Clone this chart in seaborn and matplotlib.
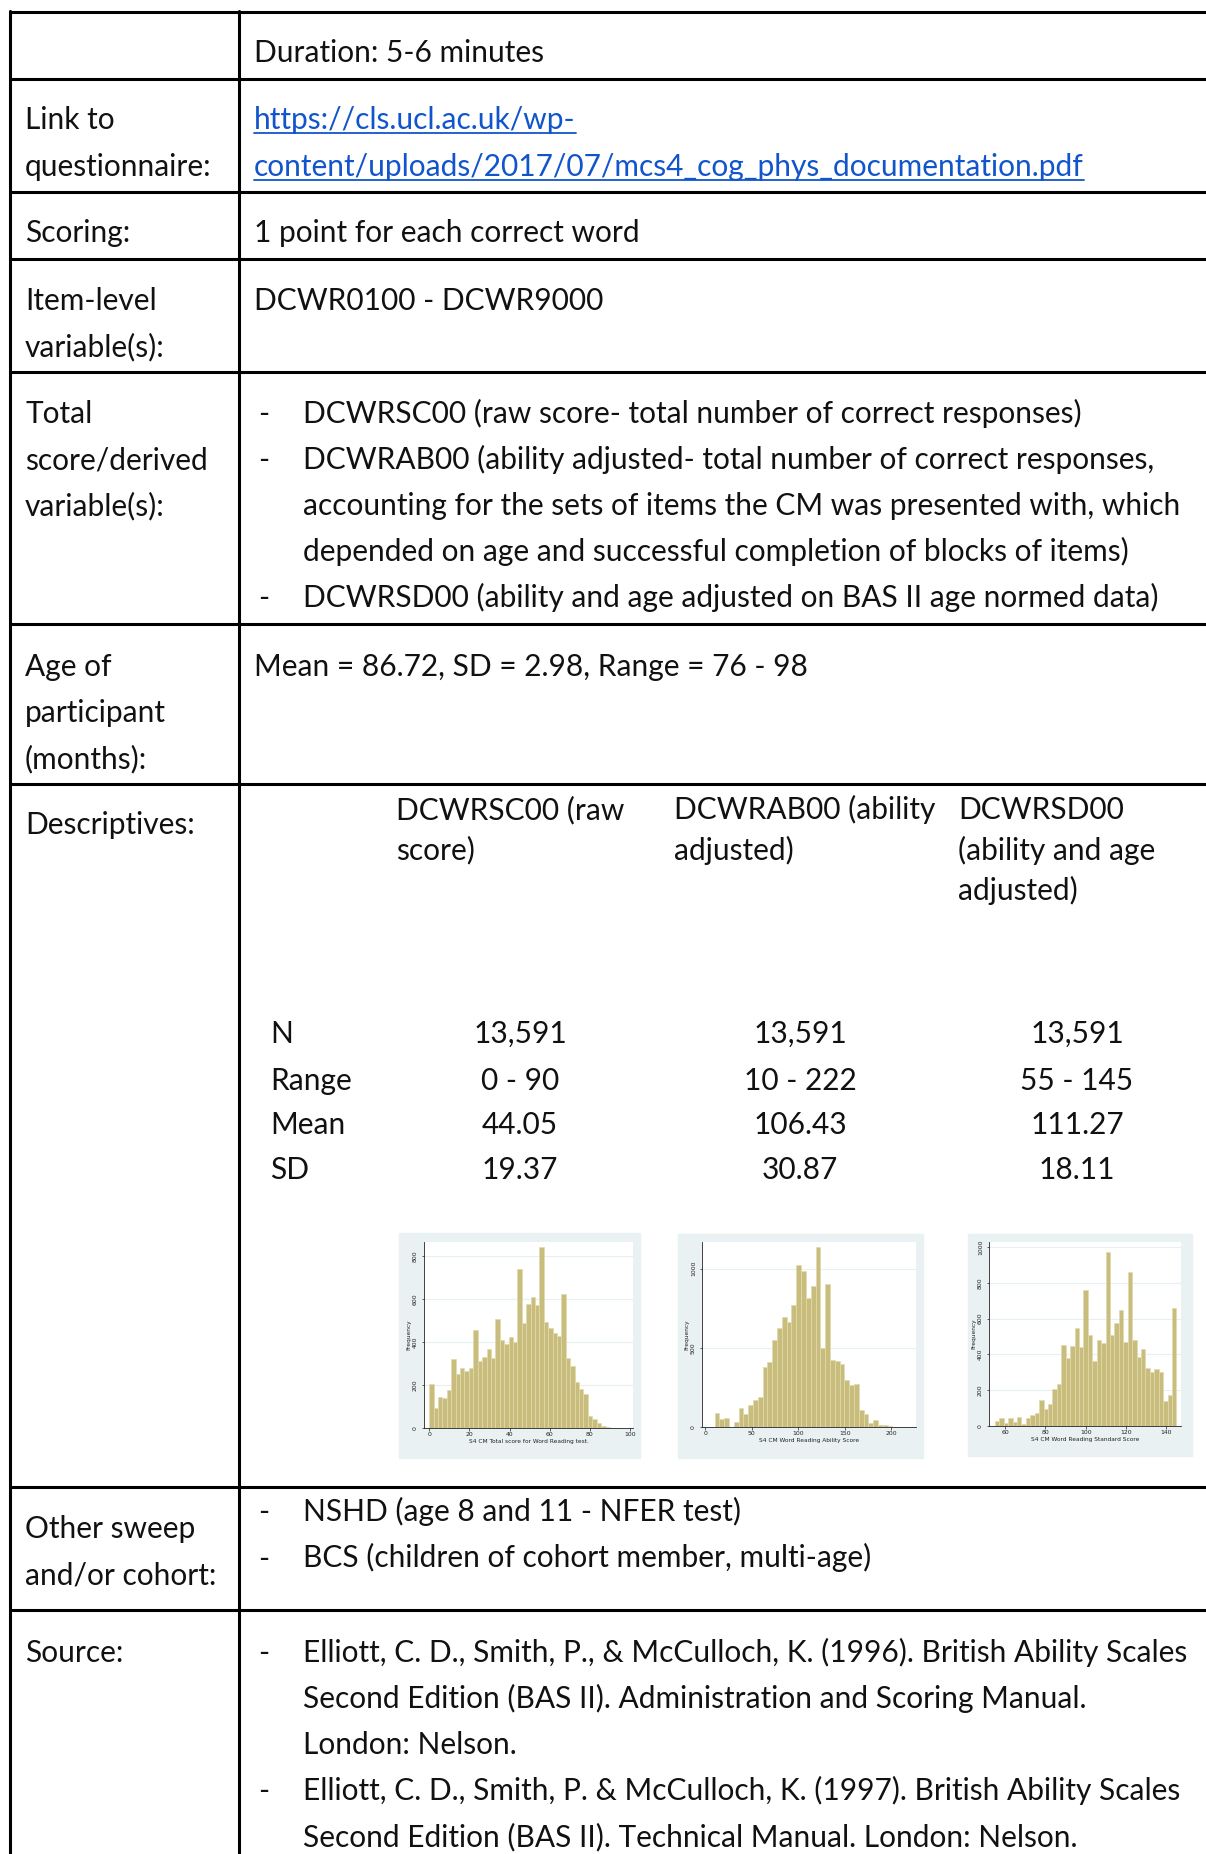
import numpy as np
import pandas as pd
import matplotlib
matplotlib.use("Agg")
import matplotlib.pyplot as plt
import seaborn as sns
from matplotlib.patches import Rectangle

# ---------------- data ----------------
raw_counts = [204, 93, 144, 139, 176, 320, 251, 279, 265, 279,
              457, 310, 330, 367, 325, 505, 409, 390, 424, 399,
              739, 488, 575, 609, 573, 841, 493, 465, 440, 426,
              623, 325, 290, 216, 181, 158, 57, 42, 25, 10, 3]
ability_counts = [90, 53, 59, 0, 34, 122, 80, 139, 172, 189,
                  378, 412, 550, 626, 693, 662, 769, 1025, 987, 815,
                  893, 1137, 496, 903, 422, 416, 395, 294, 263, 269,
                  109, 84, 23, 42, 15, 15, 4, 2, 1, 1, 1]
standard_counts = [30, 47, 15, 47, 21, 52, 9, 47, 63, 73,
                   144, 93, 121, 207, 237, 455, 382, 448, 547, 442,
                   761, 507, 362, 479, 466, 970, 509, 573, 647, 470,
                   858, 483, 388, 431, 326, 300, 321, 300, 142, 172, 660]
raw_range = (0, 90)
ability_range = (10, 222)
standard_range = (55, 145)

stat_labels = ["N", "Range", "Mean", "SD"]
raw_stats = ["13,591", "0 - 90", "44.05", "19.37"]
ability_stats = ["13,591", "10 - 222", "106.43", "30.87"]
standard_stats = ["13,591", "55 - 145", "111.27", "18.11"]

raw_xlabel = "S4 CM Total score for Word Reading test."
ability_xlabel = "S4 CM Word Reading Ability Score"
standard_xlabel = "S4 CM Word Reading Standard Score"

# ---------------- figure ----------------
sns.set_theme(style="white")
plt.rcParams['font.family'] = ['Lato', 'DejaVu Sans']

W, H = 1206, 1854
fig = plt.figure(figsize=(W / 100, H / 100), dpi=100)
ax0 = fig.add_axes([0, 0, 1, 1])
ax0.set_xlim(0, W)
ax0.set_ylim(H, 0)
ax0.axis('off')

FS = 20.0
TXT = '#111111'
LINK = '#1155CC'

# auto-fit font size to the reference line width
probe = ax0.text(0, 0, "accounting for the sets of items the CM was presented with, which", fontsize=FS)
fig.canvas.draw()
wpx = probe.get_window_extent().width
FS = FS * 880.0 / wpx
probe.remove()

def T(x, y, s, color=TXT, ha='left'):
    return ax0.text(x, y, s, fontsize=FS, color=color, ha=ha, va='baseline')

# table lines
LW = 2.2
for y in [12, 79, 192, 259, 372, 624, 784, 1487, 1610]:
    ax0.plot([9, W + 5], [y, y], color='black', lw=LW, solid_capstyle='butt')
ax0.plot([9.5, 9.5], [11, H + 5], color='black', lw=LW)
ax0.plot([239, 239], [11, H + 5], color='black', lw=LW)

XL = 25     # left column text
XR = 254    # right column text
XB = 258    # bullet dash
XBT = 303   # bullet text
D = 10      # center -> baseline offset

# Row 1
T(XR, 52 + D, "Duration: 5-6 minutes")
# Row 2
T(XL, 119 + D, "Link to")
T(XL, 166 + D, "questionnaire:")
links = [T(XR, 119 + D, "https://cls.ucl.ac.uk/wp-", color=LINK),
         T(XR, 166 + D, "content/uploads/2017/07/mcs4_cog_phys_documentation.pdf", color=LINK)]
# Row 3
T(XL, 232 + D, "Scoring:")
T(XR, 232 + D, "1 point for each correct word")
# Row 4
T(XL, 300 + D, "Item-level")
T(XL, 346 + D, "variable(s):")
T(XR, 300 + D, "DCWR0100 - DCWR9000")
# Row 5
for i, s in enumerate(["Total", "score/derived", "variable(s):"]):
    T(XL, 413 + 46 * i + D, s)
row5 = ["DCWRSC00 (raw score- total number of correct responses)",
        "DCWRAB00 (ability adjusted- total number of correct responses,",
        "accounting for the sets of items the CM was presented with, which",
        "depended on age and successful completion of blocks of items)",
        "DCWRSD00 (ability and age adjusted on BAS II age normed data)"]
bul5 = [True, True, False, False, True]
for i, (s, b) in enumerate(zip(row5, bul5)):
    y = 413 + 46 * i + D
    if b:
        T(XB, y, "-")
    T(XBT, y, s)
# Row 6
for i, s in enumerate(["Age of", "participant", "(months):"]):
    T(XL, 666 + 46 * i + D, s)
T(XR, 666 + D, "Mean = 86.72, SD = 2.98, Range = 76 - 98")
# Row 7
T(XL, 824 + D, "Descriptives:")
heads = [(396, ["DCWRSC00 (raw", "score)"]),
         (674, ["DCWRAB00 (ability", "adjusted)"]),
         (958, ["DCWRSD00", "(ability and age", "adjusted)"])]
for x, lines in heads:
    for i, s in enumerate(lines):
        T(x, 809 + 40.5 * i + D, s)
stat_y = [1033, 1080, 1124, 1169]
for i, lab in enumerate(stat_labels):
    T(270, stat_y[i] + D, lab)
for xc, vals in [(520, raw_stats), (800, ability_stats), (1077, standard_stats)]:
    for i, v in enumerate(vals):
        T(xc, stat_y[i] + D, v, ha='center')
# Row 8
T(XL, 1528 + D, "Other sweep")
T(XL, 1574 + D, "and/or cohort:")
for i, s in enumerate(["NSHD (age 8 and 11 - NFER test)",
                       "BCS (children of cohort member, multi-age)"]):
    T(XB, 1511 + 46.5 * i + D, "-")
    T(XBT, 1511 + 46.5 * i + D, s)
# Row 9
T(XL, 1652 + D, "Source:")
src = ["Elliott, C. D., Smith, P., & McCulloch, K. (1996). British Ability Scales",
       "Second Edition (BAS II). Administration and Scoring Manual.",
       "London: Nelson.",
       "Elliott, C. D., Smith, P. & McCulloch, K. (1997). British Ability Scales",
       "Second Edition (BAS II). Technical Manual. London: Nelson."]
bsrc = [True, False, False, True, False]
for i, (s, b) in enumerate(zip(src, bsrc)):
    y = 1652 + 46 * i + D
    if b:
        T(XB, y, "-")
    T(XBT, y, s)

# underline links
fig.canvas.draw()
inv = ax0.transData.inverted()
for t in links:
    bb = t.get_window_extent()
    (x0, _), (x1, _) = inv.transform([(bb.x0, bb.y0), (bb.x1, bb.y0)])
    yb = t.get_position()[1] + 4
    ax0.plot([x0, x1], [yb, yb], color=LINK, lw=1.3)

# ---------------- histograms ----------------
BG = '#E9F1F3'
BAR = '#C9BD7E'
EDGE = '#E2DAAC'
GRID = '#E6EFF1'

def draw_hist(bg, box, counts, rng, xlim, ylim, xticks, yticks, xlabel):
    bx0, by0, bx1, by1 = bg
    ax0.add_patch(Rectangle((bx0, by0), bx1 - bx0, by1 - by0, color=BG, zorder=0))
    l, t, r, b = box
    ax = fig.add_axes([l / W, 1 - b / H, (r - l) / W, (b - t) / H])
    edges = np.linspace(rng[0], rng[1], len(counts) + 1)
    centers = (edges[:-1] + edges[1:]) / 2
    df = pd.DataFrame({"value": centers, "count": np.asarray(counts, dtype=float)})
    sns.histplot(data=df, x="value", weights="count", bins=list(edges), ax=ax,
                 color=BAR, edgecolor=EDGE, linewidth=0.5, alpha=1)
    ax.set_facecolor('white')
    ax.set_xlim(*xlim)
    ax.set_ylim(*ylim)
    ax.set_xticks(xticks)
    ax.set_yticks(yticks)
    ax.set_xticklabels([str(v) for v in xticks], fontsize=4.4, color='#222222')
    ax.set_yticklabels([str(v) for v in yticks], fontsize=4.4, color='#222222',
                       rotation=90, va='center')
    ax.tick_params(axis='x', length=1.8, width=0.5, pad=1.2, color='#222222', bottom=True)
    ax.tick_params(axis='y', length=1.8, width=0.5, pad=2.5, color='#222222', left=True)
    ax.yaxis.grid(True, color=GRID, lw=0.8)
    ax.xaxis.grid(False)
    ax.set_axisbelow(True)
    for s in ['top', 'right']:
        ax.spines[s].set_visible(False)
    for s in ['left', 'bottom']:
        ax.spines[s].set_color('#222222')
        ax.spines[s].set_linewidth(0.6)
    ax.set_xlabel(xlabel, fontsize=4.2, labelpad=1, color='#222222', family='DejaVu Sans')
    ax.set_ylabel("Frequency", fontsize=4.2, labelpad=1, color='#222222', family='DejaVu Sans')
    for lab in ax.get_xticklabels() + ax.get_yticklabels():
        lab.set_family('DejaVu Sans')
    return ax

draw_hist((399, 1233, 640, 1458), (424, 1242, 633, 1428), raw_counts, raw_range,
          (-2.6, 101.5), (0, 864), [0, 20, 40, 60, 80, 100], [0, 200, 400, 600, 800],
          raw_xlabel)
draw_hist((678, 1234, 923, 1458), (702, 1242, 916, 1427), ability_counts, ability_range,
          (-3.5, 226.6), (0, 1168), [0, 50, 100, 150, 200], [0, 500, 1000],
          ability_xlabel)
draw_hist((968, 1234, 1192, 1456), (989, 1242, 1181, 1426), standard_counts, standard_range,
          (52.05, 147.3), (0, 1028), [60, 80, 100, 120, 140], [0, 200, 400, 600, 800, 1000],
          standard_xlabel)

fig.savefig("out.png", dpi=100, facecolor='white')
